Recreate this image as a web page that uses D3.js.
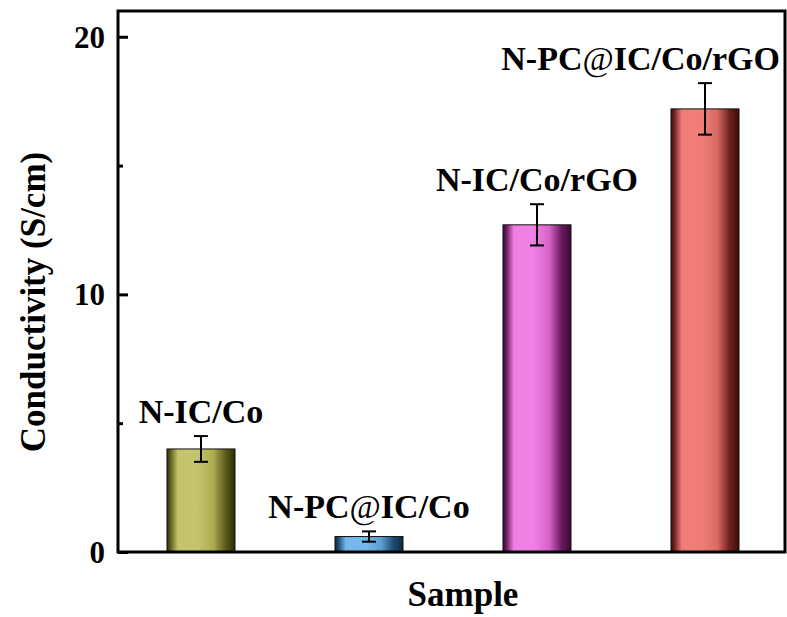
<!DOCTYPE html>
<html>
<head>
<meta charset="utf-8">
<script src="https://cdn.jsdelivr.net/npm/d3@7"></script>
<style>
  html, body { margin: 0; padding: 0; background: #ffffff; }
  svg { display: block; }
</style>
</head>
<body>
<svg id="chart" width="787" height="617"></svg>
<script>
// Samples and measured conductivity (S/cm) with error (±)
const samples = ["N-IC/Co", "N-PC@IC/Co", "N-IC/Co/rGO", "N-PC@IC/Co/rGO"];
const conductivity = [4.0, 0.6, 12.7, 17.2];
const errors = [0.5, 0.2, 0.8, 1.0];
const yMajorTicks = [0, 10, 20];
const yMinorTicks = [5, 15];

// Bar shading: [edge dark, light, body, shade] per sample
const palettes = [
  ["#2c2c0a", "#c4c46c", "#acac4e", "#5c5c1c"],
  ["#0e2840", "#74b8ea", "#5c9ece", "#1e4a6e"],
  ["#3a0a34", "#f080e4", "#d862c8", "#6a1a60"],
  ["#3c0c0a", "#f07e78", "#dc6a64", "#6e2220"]
];

const FONT = "'Liberation Serif', 'Times New Roman', Times, 'DejaVu Serif', serif";

const svg = d3.select("#chart");
const plot = { left: 118, right: 785, top: 11, bottom: 552 };

const x = d3.scaleLinear().domain([-0.5, 3.5]).range([117, 789]);
const y = d3.scaleLinear().domain([0, 21]).range([plot.bottom, plot.top]);
const barWidth = 68;

function label(sel) {
  return sel.style("font-family", FONT).style("font-weight", "bold").attr("fill", "#000");
}

// Horizontal gradients giving each bar its cylindrical look
const defs = svg.append("defs");
palettes.forEach((p, i) => {
  const g = defs.append("linearGradient")
    .attr("id", "bar" + i)
    .attr("x1", "0%").attr("x2", "100%").attr("y1", "0%").attr("y2", "0%");
  [[0, p[0]], [0.05, p[3]], [0.16, p[1]], [0.45, p[1]], [0.68, p[2]], [0.86, p[3]], [1, p[0]]]
    .forEach(([o, c]) => g.append("stop").attr("offset", o).attr("stop-color", c));
});

// Bars
svg.append("g").selectAll("rect")
  .data(conductivity)
  .join("rect")
  .attr("x", (d, i) => x(i) - barWidth / 2)
  .attr("y", d => y(d))
  .attr("width", barWidth)
  .attr("height", d => y(0) - y(d))
  .attr("fill", (d, i) => `url(#bar${i})`)
  .attr("stroke", "#111")
  .attr("stroke-width", 1);

// Error bars
const capHalf = 7;
const eg = svg.append("g").attr("stroke", "#000").attr("stroke-width", 2).attr("fill", "none");
conductivity.forEach((v, i) => {
  const cx = x(i);
  const hi = y(v + errors[i]), lo = y(v - errors[i]);
  eg.append("line").attr("x1", cx).attr("x2", cx).attr("y1", hi).attr("y2", lo);
  eg.append("line").attr("x1", cx - capHalf).attr("x2", cx + capHalf).attr("y1", hi).attr("y2", hi);
  eg.append("line").attr("x1", cx - capHalf).attr("x2", cx + capHalf).attr("y1", lo).attr("y2", lo);
});

// Sample labels above each bar, kept inside the frame
samples.forEach((name, i) => {
  const t = label(svg.append("text"))
    .attr("y", y(conductivity[i] + errors[i]) - 13)
    .attr("font-size", 34)
    .attr("text-anchor", "middle");
  name.split(/(@)/).forEach(part => {
    if (!part) return;
    const ts = t.append("tspan").text(part);
    if (part === "@") ts.style("font-weight", "normal");
  });
  const w = t.node().getComputedTextLength();
  let cx = x(i);
  if (cx + w / 2 > plot.right - 5) cx = plot.right - 5 - w / 2;
  t.attr("x", cx);
});

// Y axis with inward ticks
const yAxis = d3.axisLeft(y).tickValues(yMajorTicks).tickSizeInner(-10).tickSizeOuter(0).tickPadding(13)
  .tickFormat(d3.format("d"));
const ya = svg.append("g").attr("transform", `translate(${plot.left},0)`).call(yAxis);
ya.select(".domain").remove();
ya.attr("font-family", null).attr("font-size", null);
ya.selectAll(".tick line").attr("stroke", "#000").attr("stroke-width", 3);
label(ya.selectAll(".tick text")).attr("font-size", 31).attr("dy", "0.34em");

const yMinor = d3.axisLeft(y).tickValues(yMinorTicks).tickSizeInner(-5).tickSizeOuter(0).tickFormat("");
const ym = svg.append("g").attr("transform", `translate(${plot.left},0)`).call(yMinor);
ym.select(".domain").remove();
ym.selectAll(".tick line").attr("stroke", "#000").attr("stroke-width", 3);

// Frame
svg.append("rect")
  .attr("x", plot.left).attr("y", plot.top)
  .attr("width", plot.right - plot.left).attr("height", plot.bottom - plot.top)
  .attr("fill", "none").attr("stroke", "#000").attr("stroke-width", 3);

// Axis titles
label(svg.append("text"))
  .attr("x", 463).attr("y", 606)
  .attr("text-anchor", "middle").attr("font-size", 35)
  .text("Sample");

label(svg.append("text"))
  .attr("transform", "translate(45,302) rotate(-90)")
  .attr("text-anchor", "middle").attr("font-size", 35)
  .text("Conductivity (S/cm)");
</script>
</body>
</html>
